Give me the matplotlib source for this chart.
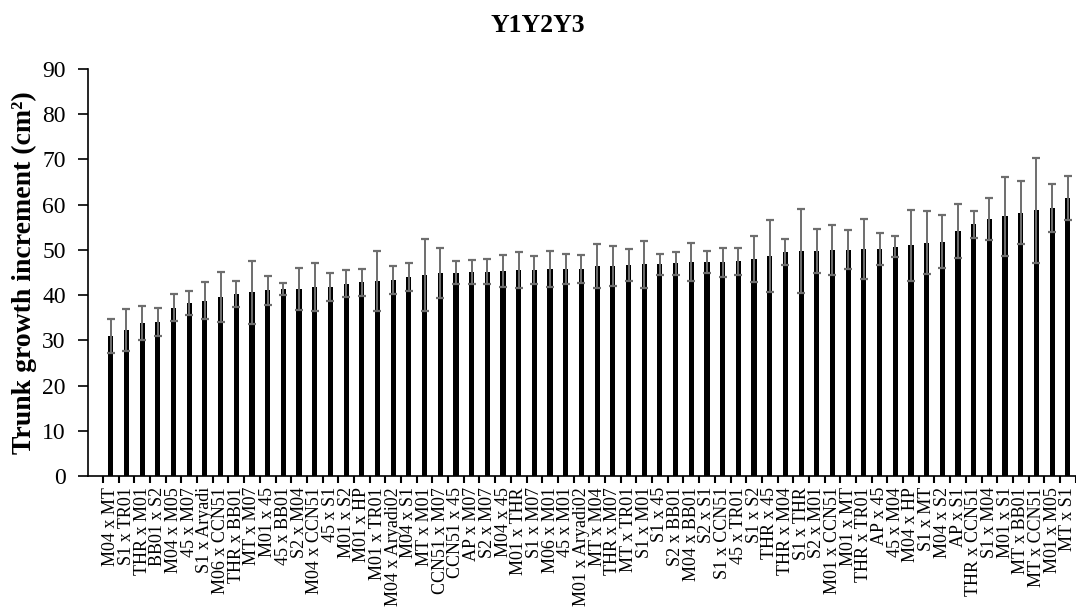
import matplotlib
matplotlib.use("Agg")
import matplotlib.pyplot as plt
import numpy as np

crosses = [
    "M04 x MT", "S1 x TR01", "THR x M01", "BB01 x S2", "M04 x M05", "45 x M07",
    "S1 x Aryadi", "M06 x CCN51", "THR x BB01", "MT x M07", "M01 x 45", "45 x BB01",
    "S2 x M04", "M04 x CCN51", "45 x S1", "M01 x S2", "M01 x HP", "M01 x TR01",
    "M04 x Aryadi02", "M04 x S1", "MT x M01", "CCN51 x M07", "CCN51 x 45", "AP x M07",
    "S2 x M07", "M04 x 45", "M01 x THR", "S1 x M07", "M06 x M01", "45 x M01",
    "M01 x Aryadi02", "MT x M04", "THR x M07", "MT x TR01", "S1 x M01", "S1 x 45",
    "S2 x BB01", "M04 x BB01", "S2 x S1", "S1 x CCN51", "45 x TR01", "S1 x S2",
    "THR x 45", "THR x M04", "S1 x THR", "S2 x M01", "M01 x CCN51", "M01 x MT",
    "THR x TR01", "AP x 45", "45 x M04", "M04 x HP", "S1 x MT", "M04 x S2",
    "AP x S1", "THR x CCN51", "S1 x M04", "M01 x S1", "MT x BB01", "MT x CCN51",
    "M01 x M05", "MT x S1",
]

increment = [
    31.0, 32.3, 33.9, 34.1, 37.2, 38.3, 38.8, 39.6, 40.2, 40.6, 41.1, 41.4,
    41.4, 41.7, 41.8, 42.5, 42.8, 43.1, 43.3, 44.0, 44.4, 44.9, 45.0, 45.1,
    45.2, 45.3, 45.6, 45.6, 45.8, 45.8, 45.8, 46.4, 46.4, 46.7, 46.8, 46.8,
    47.0, 47.3, 47.3, 47.3, 47.5, 47.9, 48.7, 49.5, 49.8, 49.8, 50.0, 50.0,
    50.2, 50.2, 50.7, 51.0, 51.6, 51.8, 54.2, 55.7, 56.8, 57.4, 58.2, 58.8,
    59.3, 61.5,
]

std_error = [
    3.8, 4.6, 3.8, 3.1, 3.0, 2.6, 4.1, 5.5, 2.9, 7.0, 3.2, 1.3,
    4.7, 5.3, 3.0, 3.0, 3.0, 6.6, 3.1, 3.0, 8.0, 5.6, 2.5, 2.6,
    2.8, 3.6, 4.0, 3.1, 4.0, 3.4, 3.1, 4.8, 4.4, 3.5, 5.2, 2.4,
    2.6, 4.2, 2.5, 3.2, 3.0, 5.1, 8.0, 2.8, 9.3, 4.8, 5.5, 4.3,
    6.6, 3.5, 2.3, 7.8, 6.9, 5.9, 6.0, 3.0, 4.6, 8.8, 7.0, 11.6,
    5.3, 4.8,
]

plt.rcParams["font.family"] = ["Liberation Serif", "DejaVu Serif"]

fig = plt.figure(figsize=(10.76, 6.11), dpi=100)
ax = fig.add_axes([0.0818, 0.221, 0.9182, 0.666])

x = np.arange(len(crosses))
ax.bar(x, increment, width=0.33, color="black", zorder=2)
ax.errorbar(x, increment, yerr=std_error, fmt="none", ecolor="#6e6e6e",
            elinewidth=1.4, capsize=3.2, capthick=1.6, zorder=3)

ax.set_xlim(-1.45, 61.52)
ax.set_ylim(0, 90)
ax.set_yticks(np.arange(0, 91, 10))
ax.tick_params(axis="y", labelsize=17, length=7, width=1.2, direction="out", pad=9)

ax.set_xticks(x)
ax.set_xticklabels(crosses, rotation=90, fontsize=13)
ax.tick_params(axis="x", which="major", length=0, pad=8)
ax.set_xticks(np.arange(-0.5, len(crosses), 1), minor=True)
ax.tick_params(axis="x", which="minor", length=5, width=1.5, direction="out")

for side in ("top", "right"):
    ax.spines[side].set_visible(False)
for side in ("left", "bottom"):
    ax.spines[side].set_linewidth(1.2)

ax.set_ylabel("Trunk growth increment (cm²)", fontsize=20, fontweight="bold", labelpad=4)
fig.text(0.5, 0.958, "Y1Y2Y3", ha="center", va="center", fontsize=18.5, fontweight="bold")

fig.savefig("out.png", dpi=100)
